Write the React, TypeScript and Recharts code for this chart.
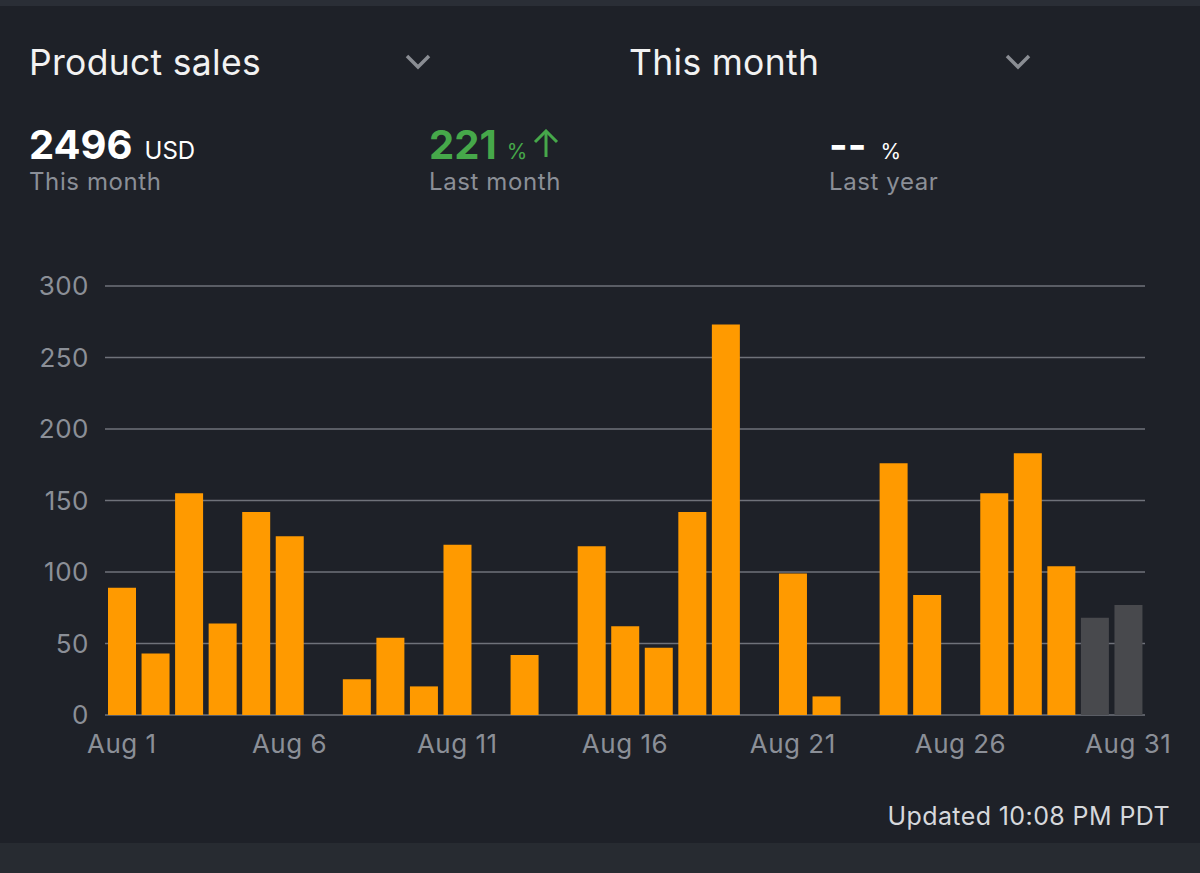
import { BarChart, Bar, XAxis, YAxis, CartesianGrid, Cell } from 'recharts';

const days = Array.from({ length: 31 }, (_, i) => `Aug ${i + 1}`);

// daily product sales in USD
const sales = [
  89, 43, 155, 64, 142, 125, 0, 25, 54, 20,
  119, 0, 42, 0, 118, 62, 47, 142, 273, 0,
  99, 13, 0, 176, 84, 0, 155, 183, 104, 68,
  77,
];

// days still being settled (drawn grey)
const estimatedDays = ['Aug 30', 'Aug 31'];

const yTicks = [0, 50, 100, 150, 200, 250, 300];

const data = days.map((day, i) => ({ day, sales: sales[i] }));

const BG = '#1e2128';
const ORANGE = '#ff9a00';
const GREY_BAR = '#48494d';
const MUTED = '#8b8f97';
const FONT = 'Inter, "Noto Sans", sans-serif';

function Chevron({ x }: { x: number }) {
  return (
    <svg width={30} height={20} style={{ position: 'absolute', left: x, top: 52 }}>
      <polyline points="3,4 14,15 25,4" fill="none" stroke="#8a8d93" strokeWidth={3.5} />
    </svg>
  );
}

export default function App() {
  return (
    <div
      style={{
        position: 'absolute',
        left: 0,
        top: 0,
        width: 1200,
        height: 873,
        background: BG,
        fontFamily: FONT,
        overflow: 'hidden',
      }}
    >
      <div style={{ position: 'absolute', left: 0, top: 0, width: 1200, height: 6, background: '#2a2e36' }} />
      <div style={{ position: 'absolute', left: 0, top: 843, width: 1200, height: 30, background: '#272b31' }} />

      {/* header selectors */}
      <div style={{ position: 'absolute', left: 29, top: 41, fontSize: 35.5, color: '#f2f2f2', letterSpacing: 0.3 }}>
        Product sales
      </div>
      <Chevron x={404} />
      <div style={{ position: 'absolute', left: 629, top: 41, fontSize: 35.5, color: '#f2f2f2', letterSpacing: 0.3 }}>
        This month
      </div>
      <Chevron x={1004} />

      {/* summary numbers */}
      <div style={{ position: 'absolute', left: 29, top: 120, color: '#ffffff', whiteSpace: 'nowrap' }}>
        <span style={{ fontSize: 40, fontWeight: 700 }}>2496</span>
        <span style={{ fontSize: 24, marginLeft: 12 }}>USD</span>
      </div>
      <div style={{ position: 'absolute', left: 29, top: 167, fontSize: 24, color: MUTED, letterSpacing: 0.6 }}>
        This month
      </div>

      <div style={{ position: 'absolute', left: 429, top: 120, color: '#46a84a', whiteSpace: 'nowrap' }}>
        <span style={{ fontSize: 40, fontWeight: 700 }}>221</span>
        <span style={{ fontSize: 21, marginLeft: 10 }}>%</span>
        <svg width={30} height={30} style={{ marginLeft: 4, verticalAlign: 'baseline' }}>
          <polyline points="4,13 15,2 26,13" fill="none" stroke="#46a84a" strokeWidth={3} />
          <line x1={15} y1={2} x2={15} y2={28} stroke="#46a84a" strokeWidth={3} />
        </svg>
      </div>
      <div style={{ position: 'absolute', left: 429, top: 167, fontSize: 24, color: MUTED, letterSpacing: 0.6 }}>
        Last month
      </div>

      <div style={{ position: 'absolute', left: 829, top: 120, color: '#ffffff', whiteSpace: 'nowrap' }}>
        <span style={{ fontSize: 40, fontWeight: 700 }}>--</span>
        <span style={{ fontSize: 21, marginLeft: 14 }}>%</span>
      </div>
      <div style={{ position: 'absolute', left: 829, top: 167, fontSize: 24, color: MUTED, letterSpacing: 0.6 }}>
        Last year
      </div>

      <div style={{ position: 'absolute', left: 0, top: 250 }}>
        <BarChart
          width={1200}
          height={520}
          data={data}
          margin={{ top: 36, right: 55, bottom: 25, left: 0 }}
          barSize={28}
        >
          <CartesianGrid vertical={false} stroke="#6f727a" strokeWidth={1.5} />
          <XAxis
            dataKey="day"
            interval={4}
            axisLine={false}
            tickLine={false}
            tickMargin={14}
            tick={{ fill: MUTED, fontSize: 26, fontFamily: FONT, letterSpacing: 0.5 }}
          />
          <YAxis
            width={105}
            domain={[0, 300]}
            ticks={yTicks}
            axisLine={false}
            tickLine={false}
            tickMargin={10}
            tick={{ fill: MUTED, fontSize: 26, fontFamily: FONT, letterSpacing: 0.5 }}
          />
          <Bar dataKey="sales" isAnimationActive={false}>
            {data.map(d => (
              <Cell key={d.day} fill={estimatedDays.includes(d.day) ? GREY_BAR : ORANGE} />
            ))}
          </Bar>
        </BarChart>
      </div>

      <div
        style={{
          position: 'absolute',
          right: 30,
          top: 801,
          fontSize: 25,
          color: '#d6d8dc',
          whiteSpace: 'nowrap',
          letterSpacing: 0.4,
        }}
      >
        Updated 10:08 PM PDT
      </div>
    </div>
  );
}
